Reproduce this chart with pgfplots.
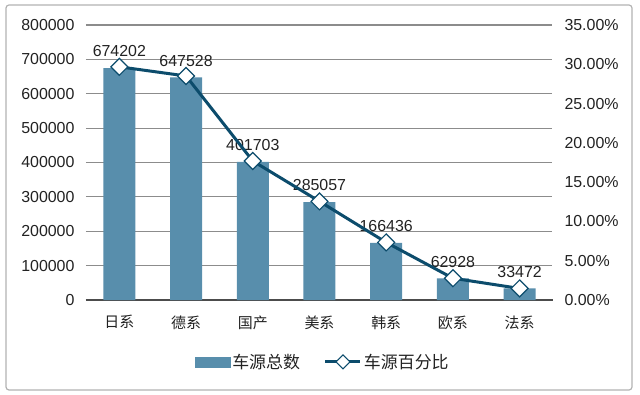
\documentclass[border=0pt]{standalone}
\usepackage{pgfplots}
\pgfplotsset{compat=1.18}
\usepackage{fontspec}
\setmainfont{Liberation Sans}
\newfontfamily\cjk{Noto Sans CJK SC}
\definecolor{barcol}{HTML}{588EAC}
\definecolor{linecol}{HTML}{0C4C6C}
\definecolor{gridcol}{HTML}{8C8C8C}
\definecolor{txtcol}{HTML}{222222}
\begin{document}
\begin{tikzpicture}
\useasboundingbox (-86bp,-95bp) rectangle (554bp,300bp);
\draw[gray!60, rounded corners=3bp, line width=1.2bp] (-80bp,-90bp) rectangle (546bp,295bp);
\begin{axis}[
  scale only axis, width=467bp, height=275bp,
  xmin=-0.5, xmax=6.5, ymin=0, ymax=800000,
  scaled y ticks=false,
  axis x line*=bottom, axis y line*=left,
  x axis line style={black!70, line width=1.4bp, -},
  y axis line style={draw=none, -},
  xtick={0,1,2,3,4,5,6},
  xticklabels={日系,德系,国产,美系,韩系,欧系,法系},
  x tick label style={font=\cjk\fontsize{15}{18}\selectfont, text=txtcol, yshift=-12bp},
  ytick={0,100000,200000,300000,400000,500000,600000,700000,800000},
  yticklabels={0,100000,200000,300000,400000,500000,600000,700000,800000},
  y tick label style={font=\fontsize{16}{19}\selectfont, text=txtcol, xshift=-8bp},
  /pgf/number format/assume math mode=true,
  ymajorgrids, grid style={gridcol, line width=1.2bp},
  major tick length=0pt, tick style={draw=none},
  ybar, bar width=32bp,
  nodes near coords,
  nodes near coords style={font=\fontsize{16}{19}\selectfont, text=txtcol, anchor=south, inner sep=0pt, yshift=11bp},
  point meta=explicit symbolic,
]
\addplot[fill=barcol, draw=none] coordinates {
  (0,674202) [674202]
  (1,647528) [647528]
  (2,401703) [401703]
  (3,285057) [285057]
  (4,166436) [166436]
  (5,62928) [62928]
  (6,33472) [33472]
};
\end{axis}
\begin{axis}[
  scale only axis, width=467bp, height=275bp,
  xmin=-0.5, xmax=6.5, ymin=0, ymax=35,
  hide x axis, axis y line*=right,
  y axis line style={draw=none, -},
  major tick length=0pt, tick style={draw=none},
  ytick={0,5,10,15,20,25,30,35},
  yticklabels={0.00\%,5.00\%,10.00\%,15.00\%,20.00\%,25.00\%,30.00\%,35.00\%},
  y tick label style={font=\fontsize{16}{19}\selectfont, text=txtcol, xshift=8bp},
  legend style={at={(0.507,-0.225)}, anchor=center, draw=none, fill=none,
    legend columns=2, font=\cjk\fontsize{17}{20}\selectfont, text=txtcol,
    /tikz/every even column/.append style={column sep=22bp},
    inner sep=0pt},
]
\addlegendimage{legend image code/.code={\fill[barcol] (0bp,-5bp) rectangle (35bp,5bp);}}
\addlegendentry{车源总数}
\addplot[linecol, line width=3bp, mark=square*, mark size=6bp,
  mark options={fill=white, draw=linecol, line width=1.2bp, rotate=45},
  legend image code/.code={\draw[linecol,line width=3bp] (0bp,0bp) -- (35bp,0bp);
    \draw[linecol, fill=white, line width=1.2bp] (17.5bp,7bp) -- (24.5bp,0bp) -- (17.5bp,-7bp) -- (10.5bp,0bp) -- cycle;}]
  coordinates {
  (0,29.68) (1,28.51) (2,17.69) (3,12.55) (4,7.33) (5,2.77) (6,1.47)
};
\addlegendentry{车源百分比}
\end{axis}
\fill[white] (466.4bp,1.2bp) rectangle (469bp,276bp);
\end{tikzpicture}
\end{document}
